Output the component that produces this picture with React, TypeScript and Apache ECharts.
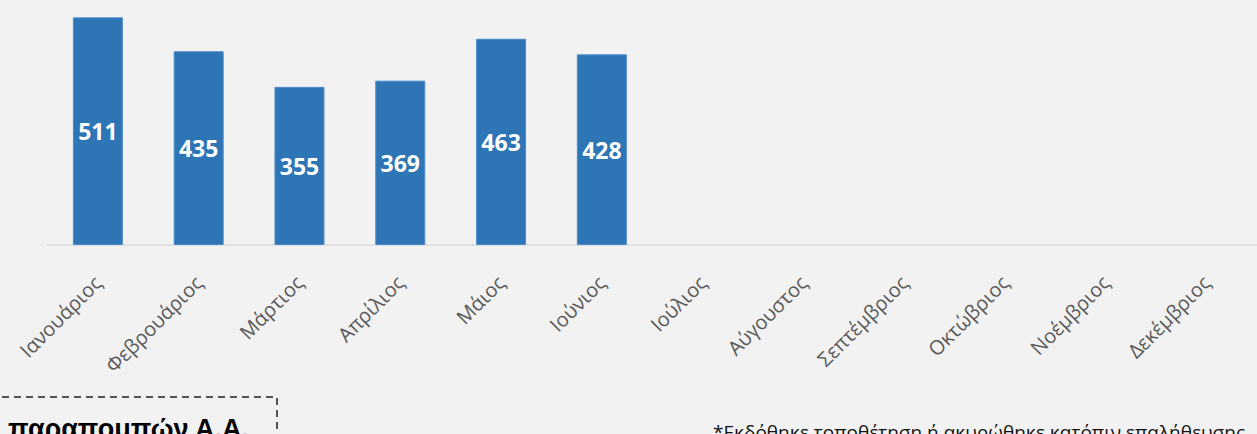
import React, { useEffect, useRef } from "react";
import * as echarts from "echarts";

const categories = [
  "Ιανουάριος",
  "Φεβρουάριος",
  "Μάρτιος",
  "Απρίλιος",
  "Μάιος",
  "Ιούνιος",
  "Ιούλιος",
  "Αύγουστος",
  "Σεπτέμβριος",
  "Οκτώβριος",
  "Νοέμβριος",
  "Δεκέμβριος",
];
const values: (number | null)[] = [511, 435, 355, 369, 463, 428, null, null, null, null, null, null];
const boxText = "παραπομπών Α.Α.";
const footnote = "*Εκδόθηκε τοποθέτηση ή ακυρώθηκε κατόπιν επαλήθευσης";

export default function App() {
  const ref = useRef<HTMLDivElement>(null);
  useEffect(() => {
    document.body.style.margin = "0";
    const chart = echarts.init(ref.current!, null, { renderer: "svg" });
    chart.setOption({
      animation: false,
      backgroundColor: "#f2f2f2",
      grid: { left: 47.5, right: -2.5, top: 0, bottom: 189 },
      xAxis: {
        type: "category",
        data: categories,
        axisLine: { lineStyle: { color: "#d9d9d9", width: 1.5 } },
        axisTick: { show: false },
        axisLabel: {
          rotate: 45,
          interval: 0,
          margin: 34,
          color: "#595959",
          fontSize: 20,
          fontFamily: "Open Sans",
        },
      },
      yAxis: {
        type: "value",
        min: 0,
        max: 550,
        show: false,
        splitLine: { show: false },
      },
      series: [
        {
          type: "bar",
          data: values,
          barWidth: 50,
          itemStyle: { color: "#2e75b6", borderColor: "#4d8ccb", borderWidth: 1 },
          label: {
            show: true,
            position: "inside",
            color: "#ffffff",
            fontWeight: "bold",
            fontSize: 23,
            fontFamily: "Open Sans",
          },
        },
      ],
      graphic: [
        {
          type: "rect",
          shape: { x: -10, y: 397, width: 287, height: 80 },
          style: { fill: "none", stroke: "#222222", lineWidth: 1.5, lineDash: [7, 5] },
        },
        {
          type: "text",
          x: 8,
          y: 428.6,
          style: {
            text: boxText,
            fontSize: 27,
            fontWeight: "bold",
            fontFamily: "Liberation Sans",
            fill: "#000000",
            verticalAlign: "middle",
          },
        },
        {
          type: "text",
          x: 713,
          y: 431.6,
          style: {
            text: footnote,
            fontSize: 19,
            fontFamily: "Open Sans",
            fill: "#111111",
            verticalAlign: "middle",
          },
        },
      ],
    });
    return () => chart.dispose();
  }, []);
  return <div ref={ref} style={{ width: 1257, height: 434 }} />;
}
